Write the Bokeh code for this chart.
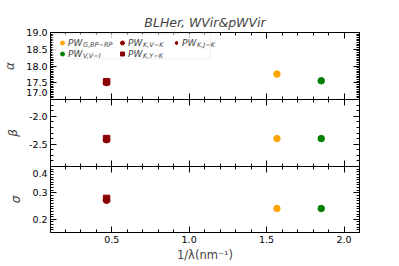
import numpy as np
from bokeh.plotting import figure
from bokeh.layouts import column
from bokeh.models import (Range1d, FixedTicker, LinearAxis, Legend, LegendItem,
                          Label, BoxAnnotation, CustomJSTickFormatter, NumeralTickFormatter)
from bokeh.embed import file_html
from bokeh.resources import INLINE

# ---- data ----
series_names = ["G,BP−RP", "V,V−I", "K,V−K", "K,Y−K", "K,J−K"]
inv_wavelength = [1.567, 1.853, 0.467, 0.467, 0.467]
alpha_vals = [17.76, 17.56, 17.51, 17.53, 17.52]
beta_vals = [-2.40, -2.40, -2.42, -2.40, -2.41]
sigma_vals = [0.241, 0.241, 0.272, 0.279, 0.276]
colors = ["orange", "green", "darkred", "darkred", "darkred"]
markers = ["circle", "circle", "circle", "square", "diamond"]

x_ticks = [0.5, 1.0, 1.5, 2.0]
alpha_ticks = [17.0, 17.5, 18.0, 18.5, 19.0]
beta_ticks = [-2.5, -2.0]
sigma_ticks = [0.2, 0.3, 0.4]

X_RANGE = (0.105, 2.1)
FONT = "DejaVu Sans"
TICK_FS = "9.5px"

x_ticker = FixedTicker(ticks=x_ticks, minor_ticks=list(np.round(np.arange(0.2, 2.11, 0.1), 3)))


def style_axis(ax, ticker, labels_on, major_len=6, minor_len=3):
    ax.ticker = ticker
    ax.major_tick_in = major_len
    ax.major_tick_out = 0
    ax.minor_tick_in = minor_len
    ax.minor_tick_out = 0
    ax.axis_line_color = "black"
    ax.major_tick_line_color = "black"
    ax.minor_tick_line_color = "black"
    ax.axis_line_width = 1
    if labels_on:
        ax.formatter = NumeralTickFormatter(format="0.0")
        ax.major_label_text_font = FONT
        ax.major_label_text_font_size = TICK_FS
        ax.major_label_text_color = "black"
        ax.major_label_standoff = 3
    else:
        ax.formatter = CustomJSTickFormatter(code="return ''")
        ax.major_label_text_font_size = "0px"
        ax.major_label_standoff = 0


def make_panel(y_range, y_ticker, ylabel, fh, top, bottom, x_labels):
    p = figure(frame_width=309, frame_height=fh,
               x_range=Range1d(*X_RANGE), y_range=Range1d(*y_range),
               output_backend="svg", toolbar_location=None,
               x_axis_location=None, y_axis_location=None,
               min_border_left=50, min_border_right=30,
               min_border_top=top, min_border_bottom=bottom)
    p.xgrid.visible = False
    p.ygrid.visible = False
    p.outline_line_color = None
    p.background_fill_color = "white"
    p.border_fill_color = "white"

    left = LinearAxis()
    style_axis(left, y_ticker, True)
    left.axis_label = ylabel
    left.axis_label_text_font = FONT
    left.axis_label_text_font_style = "italic"
    left.axis_label_text_font_size = "12px"
    left.axis_label_standoff = 6
    p.add_layout(left, "left")

    right = LinearAxis()
    style_axis(right, y_ticker, False)
    p.add_layout(right, "right")

    above = LinearAxis()
    style_axis(above, x_ticker, False)
    p.add_layout(above, "above")

    below = LinearAxis()
    style_axis(below, x_ticker, x_labels)
    if x_labels:
        below.major_label_standoff = 3
        below.axis_label = "1/λ(nm⁻¹)"
        below.axis_label_text_font = FONT
        below.axis_label_text_font_style = "normal"
        below.axis_label_text_font_size = "11.5px"
        below.axis_label_standoff = 2
    p.add_layout(below, "below")
    return p, left


def add_points(p, yvals):
    rs = []
    for i in range(len(series_names)):
        r = p.scatter([inv_wavelength[i]], [yvals[i]], marker=markers[i],
                      size=6.5 if markers[i] != "diamond" else 7.5,
                      fill_color=colors[i], line_color=colors[i])
        rs.append(r)
    return rs


p1, ax1 = make_panel((17.0, 19.0),
                     FixedTicker(ticks=alpha_ticks, minor_ticks=list(np.round(np.arange(17.0, 19.01, 0.05), 3))),
                     "α", 67, 32, 0, False)
p2, ax2 = make_panel((-2.9, -1.7),
                     FixedTicker(ticks=beta_ticks, minor_ticks=list(np.round(np.arange(-2.9, -1.69, 0.1), 3))),
                     "β", 67, 0, 0, False)
p3, ax3 = make_panel((0.15, 0.4),
                     FixedTicker(ticks=sigma_ticks, minor_ticks=list(np.round(np.arange(0.15, 0.401, 0.01), 3))),
                     "σ", 66, 0, 34, True)

# tick labels that sit exactly on a shared panel edge: nudge them inside their own panel
ax1.major_label_overrides = {alpha_ticks[0]: "%.1f\n" % alpha_ticks[0]}
ax3.major_label_overrides = {sigma_ticks[-1]: "\n%.1f" % sigma_ticks[-1]}
ax1.major_label_text_line_height = 0.1
ax3.major_label_text_line_height = 0.1

p1.title.text = "BLHer, WVir&pWVir"
p1.title.align = "center"
p1.title.text_font = FONT
p1.title.text_font_style = "italic"
p1.title.text_font_size = "12.5px"
p1.title.standoff = 5

r1 = add_points(p1, alpha_vals)
add_points(p2, beta_vals)
add_points(p3, sigma_vals)

# legend frame
p1.add_layout(BoxAnnotation(left=2, right=160, top=65.7, bottom=40.7,
                            left_units="screen", right_units="screen",
                            top_units="screen", bottom_units="screen",
                            fill_color="white", fill_alpha=0.8,
                            line_color="#cccccc", line_width=1, border_radius=2))

col_groups = [[0, 1], [2, 3], [4]]
col_x = [7, 67, 121]
for grp, cx in zip(col_groups, col_x):
    items = [LegendItem(label="PW", renderers=[r1[i]]) for i in grp]
    lg = Legend(items=items, location=(cx, 40 + (11 if len(grp) == 1 else 0)),
                orientation="vertical", glyph_width=10, glyph_height=11,
                label_height=11, label_width=10, label_standoff=1, spacing=0,
                padding=0, margin=0, border_line_color=None,
                background_fill_alpha=0, label_text_font=FONT,
                label_text_font_style="italic", label_text_font_size="9px")
    p1.add_layout(lg, "center")
    for k, i in enumerate(grp):
        p1.add_layout(Label(x=cx + 25.5, y=54.5 - 11 * k, x_units="screen", y_units="screen",
                            text=series_names[i], text_font=FONT, text_font_style="italic",
                            text_font_size="6.5px", text_baseline="middle"))

layout = column(p1, p2, p3)
open("out.html", "w").write(file_html(layout, INLINE))
